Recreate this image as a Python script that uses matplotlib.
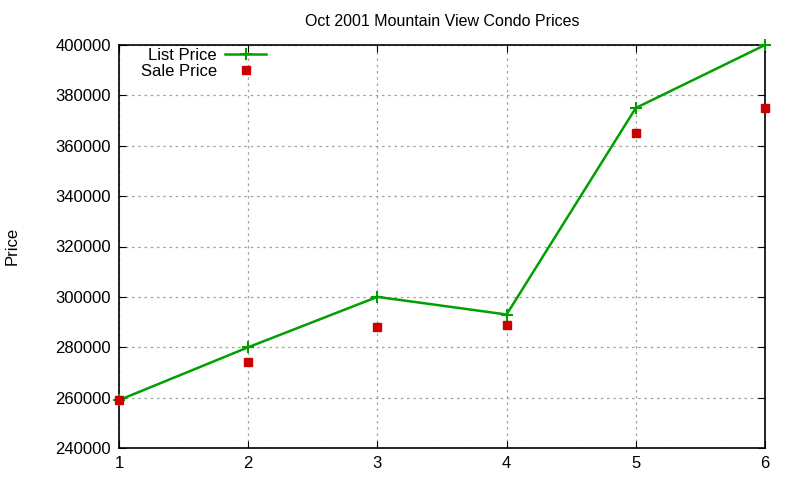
import matplotlib
matplotlib.use("Agg")
import matplotlib.pyplot as plt

plt.rcParams['font.family'] = ['Liberation Sans', 'DejaVu Sans']

months = [1, 2, 3, 4, 5, 6]
list_price = [259000, 280000, 300000, 293000, 375000, 400000]
sale_price = [259000, 274000, 288000, 289000, 365000, 375000]


def draw():
    fig = plt.figure(figsize=(8, 4.8), dpi=100)
    ax = fig.add_axes([119 / 800, 1 - 448 / 480, (765 - 119) / 800, (448 - 45) / 480])

    ax.plot(months, list_price, color='#00a000', linewidth=1.8, marker='+',
            markersize=8, markeredgewidth=1.5, label='List Price', clip_on=False, zorder=3)
    ax.plot(months, sale_price, linestyle='none', color='#cc0000', marker='s',
            markersize=6, label='Sale Price', clip_on=False, zorder=3)

    ax.set_xlim(1, 6)
    ax.set_ylim(240000, 400000)
    ax.set_xticks(months)
    ax.set_yticks(range(240000, 400001, 20000))
    ax.grid(True, color='#a0a0a0', linestyle=(0, (2, 3)), linewidth=0.9)
    ax.tick_params(direction='in', top=True, right=True, labelsize=12, length=5, pad=6)
    for s in ax.spines.values():
        s.set_linewidth(1.2)

    ax.set_title('Oct 2001 Mountain View Condo Prices', fontsize=11.5, pad=14)
    fig.text(12 / 800, 1 - 246 / 480, 'Price', rotation=90, fontsize=12,
             ha='center', va='center')

    leg = ax.legend(loc='upper right', bbox_to_anchor=(266 / 800, 1 - 48 / 480),
                    bbox_transform=fig.transFigure, frameon=False,
                    markerfirst=False, fontsize=12, handlelength=2.45,
                    borderaxespad=0, borderpad=0, handletextpad=0.5,
                    labelspacing=0.08)
    for t in leg.get_texts():
        t.set_ha('right')

    fig.savefig('out.png', dpi=100)


if __name__ == '__main__':
    draw()
